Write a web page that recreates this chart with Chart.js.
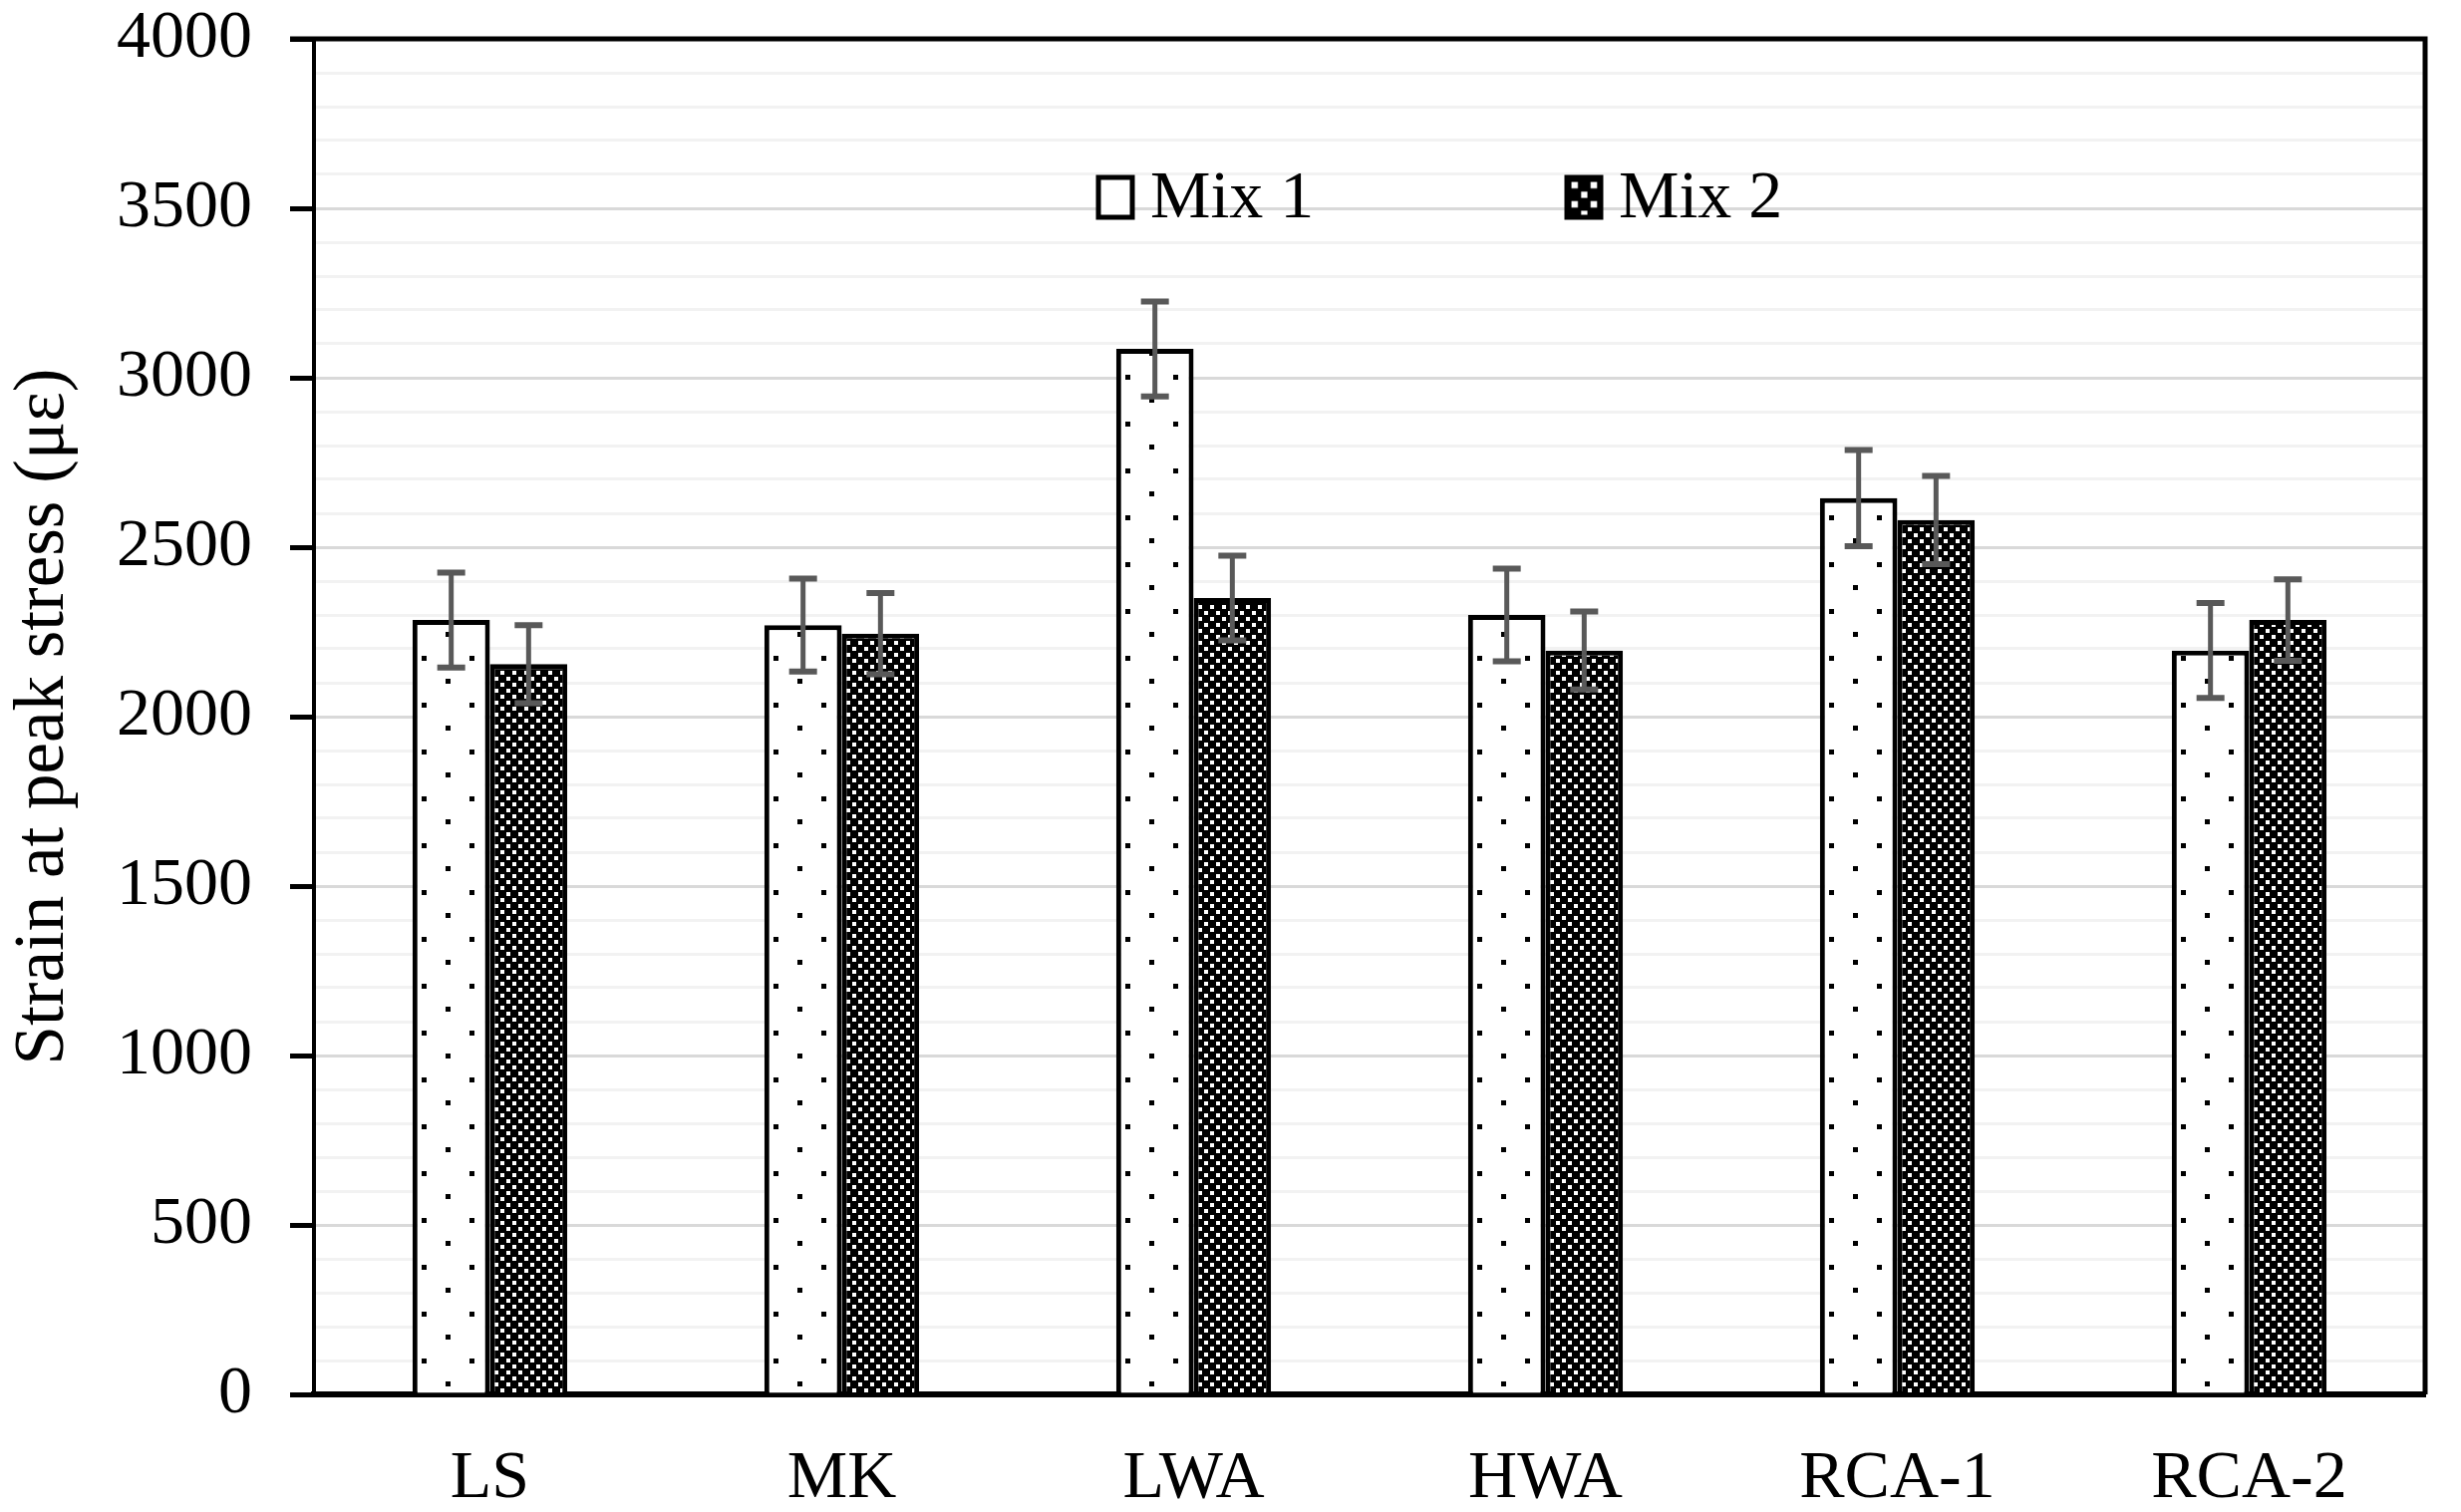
<!DOCTYPE html>
<html>
<head>
<meta charset="utf-8">
<script src="https://cdn.jsdelivr.net/npm/chart.js@4.4.0/dist/chart.umd.min.js"></script>
<style>
  html, body { margin: 0; padding: 0; background: #fff; }
  canvas { display: block; }
</style>
</head>
<body>
<canvas id="strainChart" width="2469" height="1517"></canvas>
<script>
const categories = ["LS", "MK", "LWA", "HWA", "RCA-1", "RCA-2"];
const mix1 = [2285, 2270, 3085, 2300, 2645, 2195];
const mix2 = [2155, 2245, 2350, 2195, 2580, 2285];
const mix1Err = [140, 137, 140, 137, 142, 140];
const mix2Err = [115, 120, 125, 115, 130, 120];
const seriesNames = ["Mix 1", "Mix 2"];
const yMin = 0, yMax = 4000, majorStep = 500, minorStep = 100;

const FONT = "'Liberation Serif', 'Times New Roman', serif";
const CAT_PCT = 0.44;

// fill tiles
function dotTile() {
    const c = document.createElement('canvas');
    c.width = 48; c.height = 47;
    const g = c.getContext('2d');
    g.fillStyle = '#fff';
    g.fillRect(0, 0, c.width, c.height);
    g.fillStyle = '#000';
    g.fillRect(0, 0, 5, 5);
    g.fillRect(24, 23, 5, 5);
    return c;
}

function checkTile() {
    const c = document.createElement('canvas');
    c.width = 12; c.height = 12;
    const g = c.getContext('2d');
    g.fillStyle = '#000';
    g.fillRect(0, 0, 12, 12);
    g.fillStyle = '#fff';
    g.fillRect(1, 1, 4, 4);
    g.fillRect(7, 7, 4, 4);
    return c;
}

const tiles = [dotTile(), checkTile()];
const errors = [mix1Err, mix2Err];

// one pattern per bar so the dots line up with the bar's left edge
function barFill(dsIndex) {
    return function(context) {
        const chart = context.chart;
        const pat = chart.ctx.createPattern(tiles[dsIndex], 'repeat');
        const xs = chart.scales.x;
        if (!xs || !xs.width || context.dataIndex === undefined) return pat;
        const center = xs.getPixelForValue(context.dataIndex);
        const barW = xs.width / categories.length * CAT_PCT / 2;
        const left = dsIndex === 0 ? center - barW : center;
        pat.setTransform(new DOMMatrix().translate(Math.round(left + 9), 0));
        return pat;
    };
}

// error bars from the data arrays
const errorBars = {
    id: 'errorBars',
    afterDatasetsDraw(chart) {
        const ctx = chart.ctx;
        const y = chart.scales.y;
        ctx.save();
        ctx.strokeStyle = '#595959';
        chart.data.datasets.forEach((ds, i) => {
            const meta = chart.getDatasetMeta(i);
            meta.data.forEach((bar, j) => {
                const v = ds.data[j], e = errors[i][j];
                const top = y.getPixelForValue(v + e);
                const bot = y.getPixelForValue(v - e);
                ctx.lineWidth = 5;
                ctx.beginPath();
                ctx.moveTo(bar.x, top);
                ctx.lineTo(bar.x, bot);
                ctx.stroke();
                ctx.lineWidth = 6;
                ctx.beginPath();
                ctx.moveTo(bar.x - 14, top); ctx.lineTo(bar.x + 14, top);
                ctx.moveTo(bar.x - 14, bot); ctx.lineTo(bar.x + 14, bot);
                ctx.stroke();
            });
        });
        ctx.restore();
    }
};

// top / right frame and the in-plot legend
const frameAndLegend = {
    id: 'frameAndLegend',
    afterDraw(chart) {
        const ctx = chart.ctx;
        const a = chart.chartArea;
        ctx.save();
        ctx.strokeStyle = '#000';
        ctx.lineWidth = 5;
        ctx.beginPath();
        ctx.moveTo(a.left - 24, a.top);
        ctx.lineTo(a.right, a.top);
        ctx.lineTo(a.right, a.bottom);
        ctx.stroke();

        const items = [1102, 1572];
        const boxW = 34, boxH = 40, cy = 198;
        ctx.font = "68px " + FONT;
        ctx.textBaseline = 'middle';
        items.forEach((x, i) => {
            const pat = ctx.createPattern(tiles[i], 'repeat');
            if (i === 0) {
                ctx.fillStyle = '#fff';
            } else {
                pat.setTransform(new DOMMatrix().translate(x + 3, cy - boxH / 2 + 3).scale(1.6));
                ctx.fillStyle = pat;
            }
            ctx.fillRect(x, cy - boxH / 2, boxW, boxH);
            ctx.lineWidth = 5;
            ctx.strokeStyle = '#000';
            ctx.strokeRect(x, cy - boxH / 2, boxW, boxH);
            ctx.fillStyle = '#000';
            ctx.fillText(seriesNames[i], x + boxW + 18, cy + 2);
        });
        ctx.restore();
    }
};

const ctx = document.getElementById('strainChart').getContext('2d');

new Chart(ctx, {
    type: 'bar',
    data: {
        labels: categories,
        datasets: [
            {
                label: seriesNames[0],
                data: mix1,
                backgroundColor: barFill(0),
                borderColor: '#000',
                borderWidth: 5,
                borderSkipped: 'bottom'
            },
            {
                label: seriesNames[1],
                data: mix2,
                backgroundColor: barFill(1),
                borderColor: '#000',
                borderWidth: 5,
                borderSkipped: 'bottom'
            }
        ]
    },
    options: {
        responsive: false,
        animation: false,
        devicePixelRatio: 1,
        categoryPercentage: CAT_PCT,
        barPercentage: 1.0,
        layout: {
            padding: { left: 0, right: 36, top: 39, bottom: 0 }
        },
        plugins: {
            legend: { display: false },
            tooltip: { enabled: false }
        },
        scales: {
            x: {
                grid: { display: false, drawTicks: false },
                border: { display: true, color: '#000', width: 6 },
                ticks: {
                    color: '#000',
                    padding: 44,
                    font: { family: FONT, size: 68 }
                },
                afterFit(scale) { scale.height = 118; }
            },
            y: {
                min: yMin,
                max: yMax,
                border: { display: true, color: '#000', width: 4 },
                grid: {
                    color: (c) => (c.tick && c.tick.value % majorStep === 0) ? '#d9d9d9' : '#f2f2f2',
                    lineWidth: 3,
                    tickLength: 24,
                    tickWidth: 5,
                    tickColor: (c) => (c.tick && c.tick.value % majorStep === 0) ? '#000' : 'rgba(0,0,0,0)'
                },
                ticks: {
                    stepSize: minorStep,
                    autoSkip: false,
                    color: '#000',
                    padding: 38,
                    font: { family: FONT, size: 68 },
                    callback: (v) => (v % majorStep === 0) ? v : ''
                },
                title: {
                    display: true,
                    text: 'Strain at peak stress (με)',
                    color: '#000',
                    padding: { top: 2, bottom: 0 },
                    font: { family: FONT, size: 71 }
                },
                afterFit(scale) {
                    scale.width = 315;
                    scale.paddingTop = 0;
                    scale.paddingBottom = 0;
                }
            }
        }
    },
    plugins: [errorBars, frameAndLegend]
});
</script>
</body>
</html>
